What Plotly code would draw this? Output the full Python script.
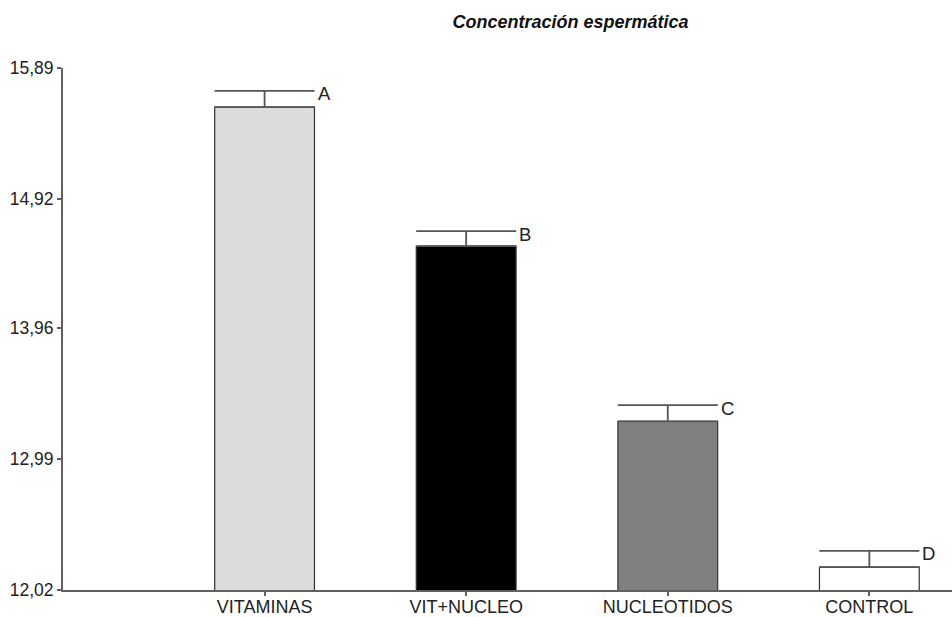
import plotly.graph_objects as go

categories = ["VITAMINAS", "VIT+NUCLEO", "NUCLEOTIDOS", "CONTROL"]
values = [15.60, 14.57, 13.27, 12.19]
errors = [0.12, 0.11, 0.12, 0.12]
letters = ["A", "B", "C", "D"]
colors = ["#dcdcdc", "#000000", "#808080", "#ffffff"]
yticks = [12.02, 12.99, 13.96, 14.92, 15.89]
yticklabels = ["12,02", "12,99", "13,96", "14,92", "15,89"]

FONT = "Liberation Sans, Arial, sans-serif"

fig = go.Figure()
fig.add_trace(go.Bar(
    x=categories, y=values, width=0.495,
    marker=dict(color=colors, line=dict(color="#333333", width=1.2)),
    error_y=dict(type="data", symmetric=False, array=errors,
                 arrayminus=[0] * len(errors),
                 color="#555555", thickness=1.8, width=50),
    showlegend=False,
))

for c, v, e, l in zip(categories, values, errors, letters):
    fig.add_annotation(x=c, y=v + e, xref="x", yref="y", text=l,
                       showarrow=False, xanchor="left", yanchor="middle",
                       xshift=51, yshift=-3,
                       font=dict(family=FONT, size=18.5, color="#222222"))

fig.update_layout(
    width=952, height=617,
    margin=dict(l=63, r=0, t=68, b=27),
    paper_bgcolor="white", plot_bgcolor="white",
    font=dict(family=FONT, size=18, color="#222222"),
    title=dict(text="<b><i>Concentración espermática</i></b>",
               x=570.5 / 952, xanchor="center", y=1 - 22 / 617, yanchor="middle",
               font=dict(family=FONT, size=18, color="#111111")),
    bargap=0.5,
)
fig.update_xaxes(range=[-1.0, 3.41], showline=True, linecolor="#606060",
                 linewidth=2, ticks="outside", ticklen=4, tickcolor="#606060",
                 tickwidth=1.5, showgrid=False, zeroline=False, automargin=False,
                 ticklabelstandoff=-5,
                 tickfont=dict(family=FONT, size=18, color="#222222"))
fig.update_yaxes(range=[12.02, 15.89], tickvals=yticks, ticktext=yticklabels,
                 showline=True, linecolor="#606060", linewidth=2,
                 ticks="outside", ticklen=4, tickcolor="#606060", tickwidth=1.5,
                 showgrid=False, zeroline=False, automargin=False,
                 tickfont=dict(family=FONT, size=17.5, color="#222222"))

fig.write_html("out.html", config={"displayModeBar": False})

with open("out.html", "r", encoding="utf-8") as f:
    html = f.read()
html = html.replace("<head>", "<head><style>html,body{margin:0;padding:0;overflow:hidden;}</style>", 1)
with open("out.html", "w", encoding="utf-8") as f:
    f.write(html)
